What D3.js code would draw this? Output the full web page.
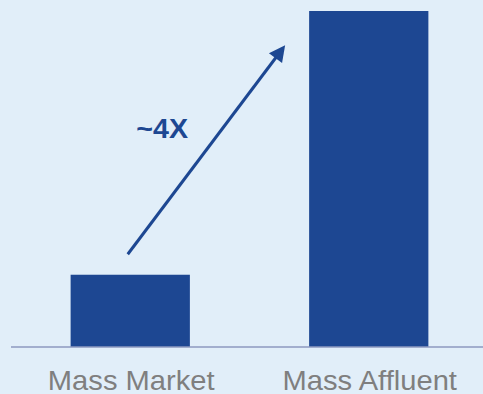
<!DOCTYPE html>
<html>
<head>
<meta charset="utf-8">
<script src="https://cdn.jsdelivr.net/npm/d3@7"></script>
<style>
  html, body { margin: 0; padding: 0; background: #e1eef9; }
  svg { display: block; }
</style>
</head>
<body>
<svg id="chart" width="483" height="394"></svg>
<script>
// Segments and their relative size (Mass Market = 1)
const categories = ["Mass Market", "Mass Affluent"];
const values = [1.0, 4.65];
const growthLabel = "~4X";

const W = 483, H = 394;
const barColor = "#1d4792";
const bg = "#e1eef9";
const font = "'Liberation Sans', Arial, sans-serif";
// Text is set slightly wide
const stretch = 1.06;

const svg = d3.select("#chart");
svg.append("rect").attr("width", W).attr("height", H).attr("fill", bg);

const x = d3.scaleBand()
  .domain(categories)
  .range([11, 488])
  .paddingInner(0.5)
  .paddingOuter(0.25);

const y = d3.scaleLinear()
  .domain([0, d3.max(values)])
  .range([347, 11]);

// Bars
svg.selectAll("rect.bar")
  .data(categories.map((c, i) => ({ c, v: values[i] })))
  .join("rect")
  .attr("class", "bar")
  .attr("x", d => x(d.c))
  .attr("width", x.bandwidth())
  .attr("y", d => y(d.v))
  .attr("height", d => y(0) - y(d.v))
  .attr("fill", barColor);

// Baseline
svg.append("line")
  .attr("x1", 11).attr("x2", W)
  .attr("y1", y(0)).attr("y2", y(0))
  .attr("stroke", "#8d99bf")
  .attr("stroke-width", 1.6);

function widen(sel) {
  sel.each(function () {
    const len = this.getComputedTextLength();
    d3.select(this)
      .attr("textLength", len * stretch)
      .attr("lengthAdjust", "spacingAndGlyphs");
  });
}

// Category labels
svg.selectAll("text.cat")
  .data(categories)
  .join("text")
  .attr("class", "cat")
  .attr("x", d => x(d) + x.bandwidth() / 2 + 1)
  .attr("y", 389.5)
  .attr("text-anchor", "middle")
  .attr("font-family", font)
  .attr("font-size", 27.5)
  .attr("fill", "#7f7f7f")
  .text(d => d)
  .call(widen);

// Growth arrow from above the first bar toward the top of the second
const x0 = x(categories[0]) + x.bandwidth() / 2 - 2.5;
const y0 = y(values[0]) - 20.5;
const x1 = x(categories[1]) - 24;
const y1 = y(values[1]) + 34.3;

const dx = x1 - x0, dy = y1 - y0;
const len = Math.hypot(dx, dy);
const ux = dx / len, uy = dy / len;
const headLen = 16, headHalf = 8.2;
const bx = x1 - ux * headLen, by = y1 - uy * headLen;

svg.append("line")
  .attr("x1", x0).attr("y1", y0)
  .attr("x2", bx + ux * 2).attr("y2", by + uy * 2)
  .attr("stroke", barColor)
  .attr("stroke-width", 3);

svg.append("path")
  .attr("d", d3.line()([
    [x1, y1],
    [bx - uy * headHalf, by + ux * headHalf],
    [bx + uy * headHalf, by - ux * headHalf]
  ]) + "Z")
  .attr("fill", barColor);

// Growth label
svg.append("text")
  .attr("x", x(categories[0]) + x.bandwidth() / 2 + 32)
  .attr("y", 138)
  .attr("text-anchor", "middle")
  .attr("font-family", font)
  .attr("font-weight", "bold")
  .attr("font-size", 27)
  .attr("fill", barColor)
  .text(growthLabel)
  .call(widen);
</script>
</body>
</html>
